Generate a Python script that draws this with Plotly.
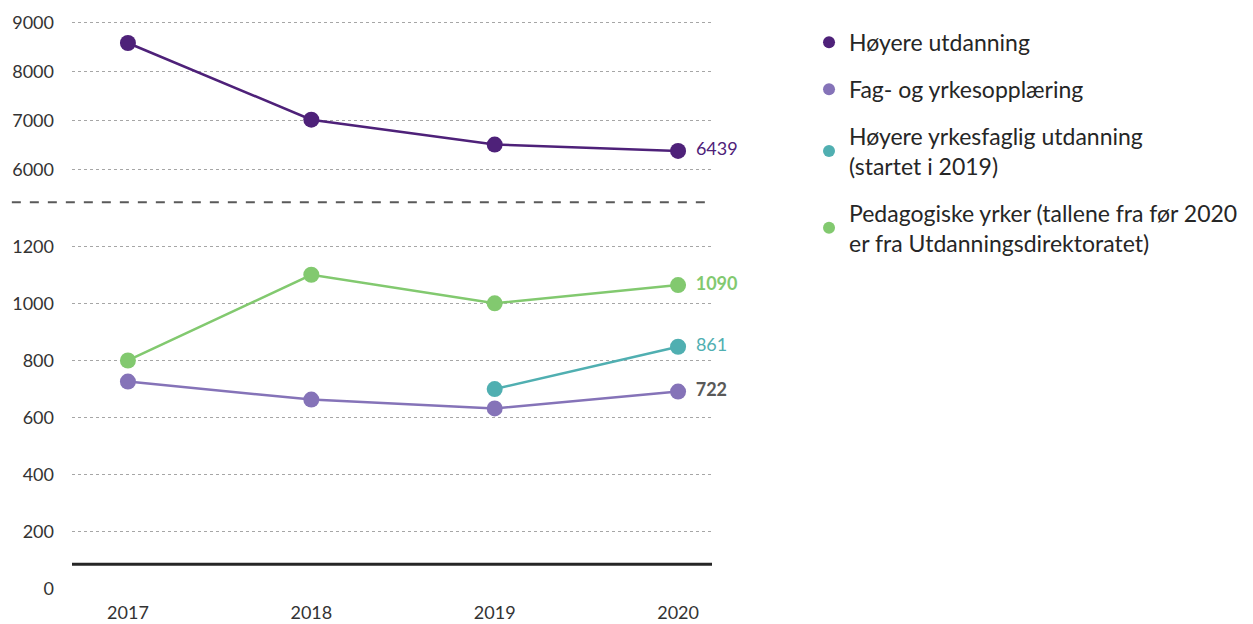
import plotly.graph_objects as go
from plotly.subplots import make_subplots

years = [2017, 2018, 2019, 2020]

hoyere = [8590, 7020, 6510, 6380]
fag = [726, 663, 632, 691]
yrkesfaglig = [None, None, 700, 848]
pedagogiske = [800, 1100, 1000, 1064]

labels_hoyere = ["", "", "", "6439"]
labels_fag = ["", "", "", "722"]
labels_yrkesfaglig = ["", "", "", "861"]
labels_pedagogiske = ["", "", "", "1090"]

names = [
    "Høyere utdanning",
    "Fag- og yrkesopplæring",
    "Høyere yrkesfaglig utdanning<br>(startet i 2019)",
    "Pedagogiske yrker (tallene fra før 2020<br>er fra Utdanningsdirektoratet)",
]

top_ticks = [6000, 7000, 8000, 9000]
bottom_ticks = [0, 200, 400, 600, 800, 1000, 1200]

C_HOY = "#4E2179"
C_FAG = "#8573B8"
C_YRK = "#50AFB1"
C_PED = "#82C96F"
FONT = "Lato"

fig = make_subplots(rows=2, cols=1, shared_xaxes=True)


def series(y, text, color, tcolor, weight, row):
    text = ["\u00a0\u2009" + t if t else "" for t in text]
    fig.add_trace(go.Scatter(
        x=years, y=y, mode="lines+markers+text", text=text,
        textposition="middle right",
        textfont=dict(family=FONT, size=18, color=tcolor, weight=weight),
        line=dict(color=color, width=2.5), marker=dict(color=color, size=16),
        showlegend=False, cliponaxis=False, hoverinfo="x+y",
    ), row=row, col=1)


series(hoyere, labels_hoyere, C_HOY, C_HOY, "normal", 1)
series(pedagogiske, labels_pedagogiske, C_PED, C_PED, "bold", 2)
series(fag, labels_fag, C_FAG, "#595959", "bold", 2)
series(yrkesfaglig, labels_yrkesfaglig, C_YRK, C_YRK, "normal", 2)

# legend-only entries (dots)
for i, (n, c) in enumerate(zip(names, [C_HOY, C_FAG, C_YRK, C_PED])):
    fig.add_trace(go.Scatter(x=[None], y=[None], mode="markers", name=n,
                             marker=dict(color=c, size=11),
                             legendgroup=str(i)), row=2, col=1)

grid = dict(showgrid=True, gridcolor="#A6A6A6", griddash="dot", gridwidth=1,
            zeroline=False, ticks="", ticklabelstandoff=17,
            tickfont=dict(family=FONT, size=18, color="#333333"))
fig.update_yaxes(range=[5327, 9429], domain=[0.6587, 1.0],
                 tickvals=top_ticks, **grid, row=1, col=1)
fig.update_yaxes(range=[0, 1235], domain=[0, 0.601],
                 tickvals=bottom_ticks, **grid, row=2, col=1)
fig.update_xaxes(range=[2016.695, 2020.185], showgrid=False, zeroline=False,
                 showline=False, ticks="")
fig.update_xaxes(tickvals=years, ticklabelstandoff=11,
                 tickfont=dict(family=FONT, size=18, color="#333333"),
                 row=2, col=1)

# broken-axis dashed separator and bottom baseline
fig.add_shape(type="line", xref="paper", yref="paper", x0=-0.094, x1=1,
              y0=0.6587, y1=0.6587, line=dict(color="#595959", width=2, dash="dash"))
fig.add_shape(type="line", xref="paper", yref="y2", x0=0, x1=1,
              y0=87, y1=87, line=dict(color="#262626", width=3))

fig.update_layout(
    width=1253, height=624,
    margin=dict(l=72, r=541, t=0, b=35),
    plot_bgcolor="white", paper_bgcolor="white",
    font=dict(family=FONT, color="#262626"),
    legend=dict(x=1.1516, y=0.968, xanchor="left", yanchor="top",
                font=dict(family=FONT, size=23, color="#262626"),
                tracegroupgap=14, itemsizing="constant"),
)

fig.write_html(
    "out.html",
    config={"displayModeBar": False},
    post_script="document.body.style.margin='0';"
                "document.body.style.overflow='hidden';",
)
